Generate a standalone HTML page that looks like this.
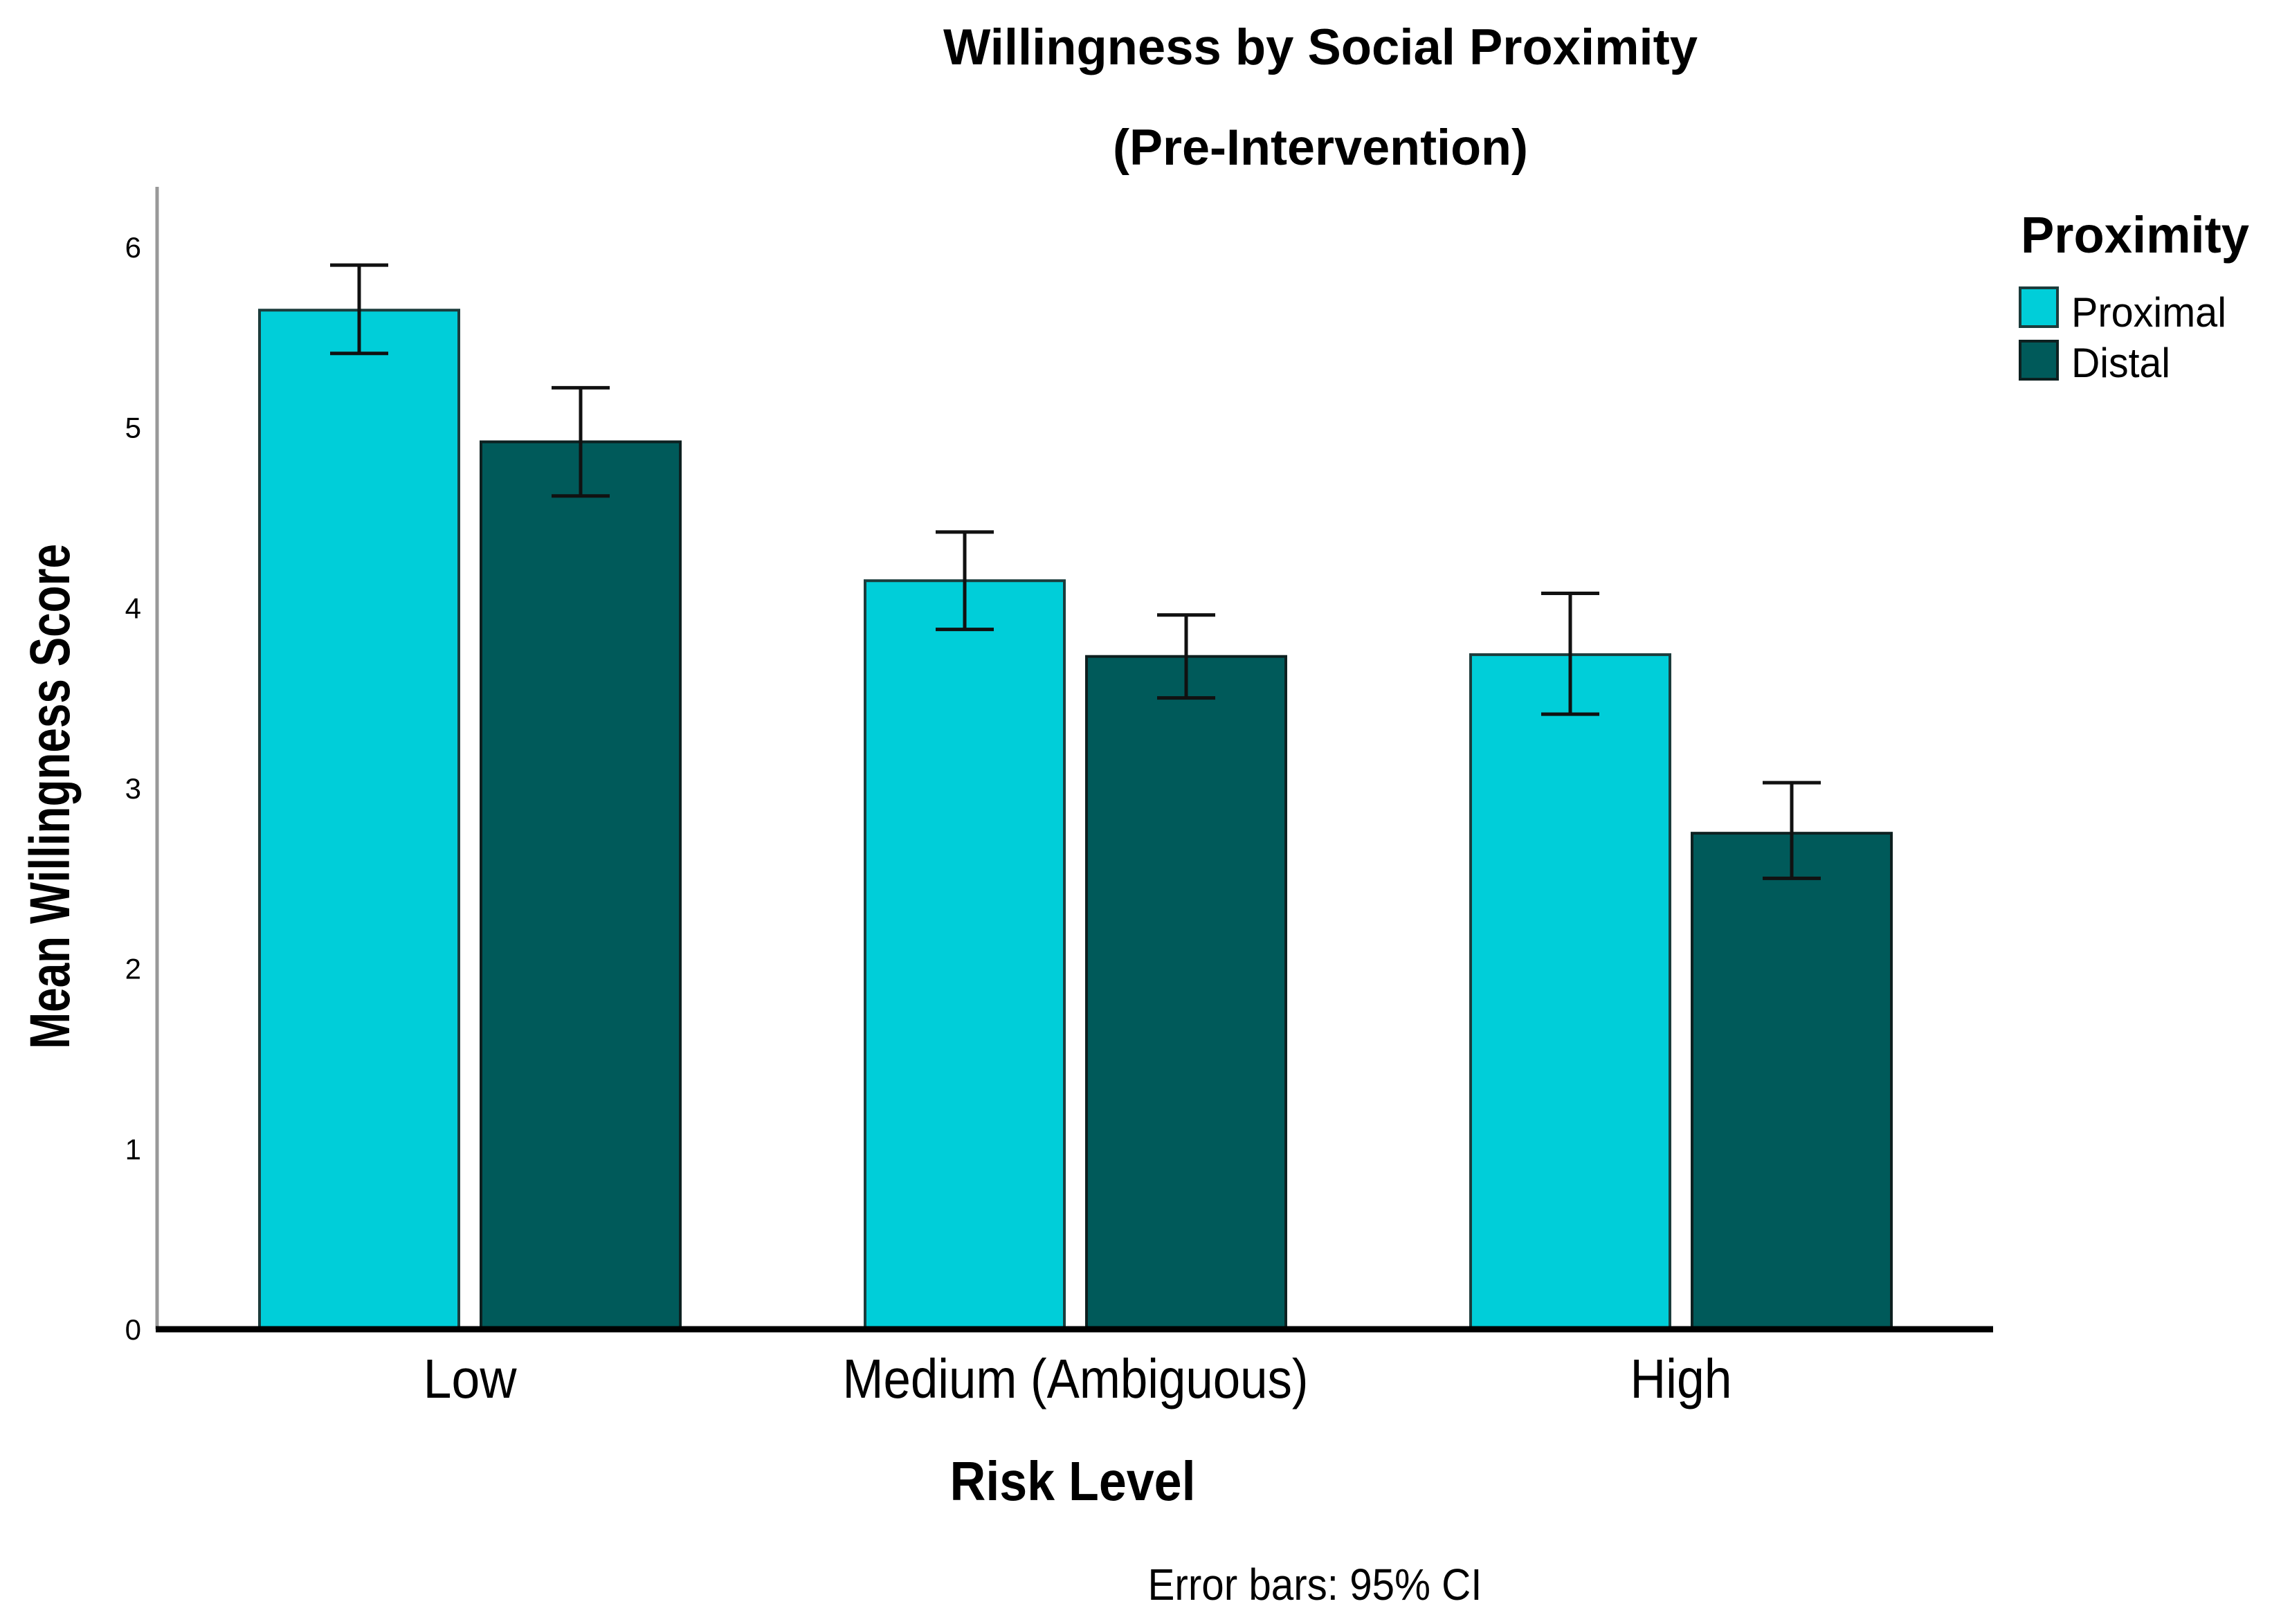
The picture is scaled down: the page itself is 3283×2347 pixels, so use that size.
<!DOCTYPE html>
<html><head><meta charset="utf-8"><style>
html,body{margin:0;padding:0;background:#fff;}
svg{display:block;font-family:"Liberation Sans",sans-serif;}
</style></head><body>
<svg id="chart" width="3283" height="2347" viewBox="0 0 3283 2347">
<text x="1908" y="93" font-size="73" font-weight="bold" text-anchor="middle" textLength="1090" lengthAdjust="spacingAndGlyphs">Willingness by Social Proximity</text>
<text x="1908" y="238" font-size="73" font-weight="bold" text-anchor="middle" textLength="600" lengthAdjust="spacingAndGlyphs">(Pre-Intervention)</text>
<g id="yticks"></g>
<g id="bars"></g>
<g id="errs"></g>
<line x1="227" y1="270" x2="227" y2="1921" stroke="#999" stroke-width="5"/>
<line x1="225" y1="1921" x2="2880" y2="1921" stroke="#000" stroke-width="9"/>
<g id="xlabels"></g>
<text transform="translate(100,1151) rotate(-90)" font-size="82" font-weight="bold" text-anchor="middle" textLength="730" lengthAdjust="spacingAndGlyphs">Mean Willingness Score</text>
<text x="1550" y="2168" font-size="80" font-weight="bold" text-anchor="middle" textLength="355" lengthAdjust="spacingAndGlyphs">Risk Level</text>
<text x="1900" y="2312" font-size="64" text-anchor="middle" textLength="483" lengthAdjust="spacingAndGlyphs">Error bars: 95% CI</text>
<text x="2920" y="365" font-size="74" font-weight="bold" textLength="330" lengthAdjust="spacingAndGlyphs">Proximity</text>
<g>
<rect x="2919" y="416" width="54" height="56" fill="#00CED9" stroke="#1c3c3c" stroke-width="4"/>
<text x="2993" y="472" font-size="60" textLength="224" lengthAdjust="spacingAndGlyphs">Proximal</text>
</g>
<g>
<rect x="2919" y="493" width="54" height="55" fill="#005A5A" stroke="#0d2020" stroke-width="4"/>
<text x="2993" y="545" font-size="60" textLength="143" lengthAdjust="spacingAndGlyphs">Distal</text>
</g>
</svg>
<script>
const categories = ["Low", "Medium (Ambiguous)", "High"];
const proximalValues = [5.65, 4.15, 3.74];
const proximalLow = [5.41, 3.88, 3.41];
const proximalHigh = [5.90, 4.42, 4.08];
const distalValues = [4.92, 3.73, 2.75];
const distalLow = [4.62, 3.50, 2.50];
const distalHigh = [5.22, 3.96, 3.03];
const yTicks = [0, 1, 2, 3, 4, 5, 6];

const NS = "http://www.w3.org/2000/svg";
const y0 = 1921, yUnit = (1921 - 357) / 6;
function yScale(v) { return y0 - v * yUnit; }
const groupCenters0 = 679, groupStep = 875;
function xCenter(i) { return groupCenters0 + i * groupStep; }
const barW = 288, gap = 32;
const labelLens = [135, 673, 147];

function mk(tag, attrs, parent) {
  const e = document.createElementNS(NS, tag);
  for (const k in attrs) e.setAttribute(k, attrs[k]);
  parent.appendChild(e);
  return e;
}
const gT = document.getElementById("yticks");
yTicks.forEach(t => {
  const e = mk("text", {x: 204, y: yScale(t) + 15, "font-size": 42, "text-anchor": "end"}, gT);
  e.textContent = t;
  
  
});
const gB = document.getElementById("bars"), gE = document.getElementById("errs"), gX = document.getElementById("xlabels");
const series = [
  {vals: proximalValues, lo: proximalLow, hi: proximalHigh, fill: "#00CED9", stroke: "#1c3c3c", off: -(gap / 2 + barW), key: "proximal"},
  {vals: distalValues, lo: distalLow, hi: distalHigh, fill: "#005A5A", stroke: "#0d2020", off: gap / 2, key: "distal"}
];
categories.forEach((c, i) => {
  series.forEach(s => {
    const x = xCenter(i) + s.off;
    const yt = yScale(s.vals[i]);
    const r = mk("rect", {x: x, y: yt, width: barW, height: y0 - yt, fill: s.fill, stroke: s.stroke, "stroke-width": 4}, gB);
    
    
    const cx = x + barW / 2, ylo = yScale(s.lo[i]), yhi = yScale(s.hi[i]);
    const g = mk("g", {stroke: "#111", "stroke-width": 5}, gE);
    
    
    mk("line", {x1: cx, y1: ylo, x2: cx, y2: yhi}, g);
    mk("line", {x1: cx - 42, y1: ylo, x2: cx + 42, y2: ylo}, g);
    mk("line", {x1: cx - 42, y1: yhi, x2: cx + 42, y2: yhi}, g);
  });
  const t = mk("text", {x: xCenter(i), y: 2020, "font-size": 80, "text-anchor": "middle", textLength: labelLens[i], lengthAdjust: "spacingAndGlyphs"}, gX);
  t.textContent = c;
  
  
});
</script>
</body></html>
